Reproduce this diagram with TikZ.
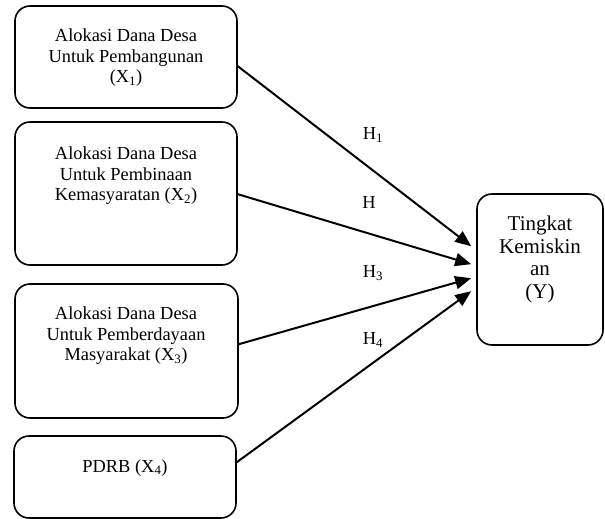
\documentclass[tikz,border=0pt]{standalone}
\usepackage{fontspec}
\setmainfont{Liberation Serif}
\usetikzlibrary{arrows.meta,calc}
\begin{document}
\begin{tikzpicture}[x=1pt,y=-1pt,
 box/.style={draw,line width=1.6pt,rounded corners=15pt,inner sep=0},
 txt/.style={align=center,font=\fontsize{18.4}{20.3}\selectfont,inner sep=0,anchor=north},
 ytxt/.style={align=center,font=\fontsize{21}{22.8}\selectfont,inner sep=0,anchor=north},
 arr/.style={line width=2pt,-{Triangle[length=16pt,width=13pt]}},
 hl/.style={font=\fontsize{18.4}{20}\selectfont,inner sep=0}]
\useasboundingbox (0,0) rectangle (605,519);
\node[box,minimum width=222pt,minimum height=102pt] (b1) at (126,57) {};
\node[box,minimum width=222pt,minimum height=143pt] (b2) at (126,193.5) {};
\node[box,minimum width=223pt,minimum height=134pt] (b3) at (126.5,351) {};
\node[box,minimum width=222pt,minimum height=82pt] (b4) at (125,477) {};
\node[box,minimum width=126pt,minimum height=151pt] (y) at (540,269.5) {};
\node[txt] (t1) at (126,29) {Alokasi Dana Desa\\Untuk Pembangunan\\(X\textsubscript{1})};
\node[txt] (t2) at (126,147) {Alokasi Dana Desa\\Untuk Pembinaan\\Kemasyaratan (X\textsubscript{2})};
\node[txt] (t3) at (126,307) {Alokasi Dana Desa\\Untuk Pemberdayaan\\Masyarakat (X\textsubscript{3})};
\node[txt,anchor=base] (t4) at (125,472) {PDRB (X\textsubscript{4})};
\node[ytxt] (ty) at (540,215.5) {Tingkat\\Kemiskin\\an\\(Y)};
\draw[arr] ($(b1.north east)+(0,61)$) -- ($(y.north west)+(-5,53)$);
\draw[arr] ($(b2.north east)+(0,73)$) -- ($(y.north west)+(-5,71)$);
\draw[arr] ($(b3.north east)+(0,61)$) -- ($(y.north west)+(-5,85)$);
\draw[arr] ($(b4.north east)+(0,27)$) -- ($(y.north west)+(-5,98)$);
\node[hl] (h1) at (373,135) {H\textsubscript{1}};
\node[hl] (h2) at (369,202) {H};
\node[hl] (h3) at (373,273) {H\textsubscript{3}};
\node[hl] (h4) at (373,340) {H\textsubscript{4}};
\end{tikzpicture}
\end{document}
